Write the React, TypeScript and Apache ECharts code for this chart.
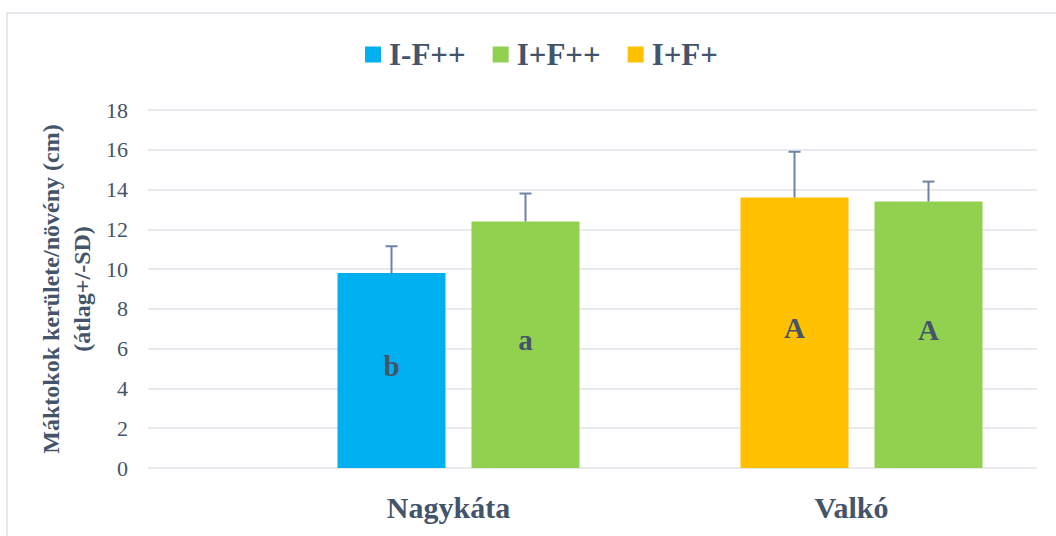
import React, { useEffect, useRef } from "react";
import * as echarts from "echarts";

const categories = ["Nagykáta", "Valkó"];
const seriesNames = ["I-F++", "I+F++", "I+F+"];
// means per series (per category), "-" = no bar
const valsIFpp: (number | string)[] = [9.8, "-"];
const valsIpFpp: (number | string)[] = [12.4, 13.4];
const valsIpFp: (number | string)[] = ["-", 13.6];
// standard deviations
const sdIFpp: (number | null)[] = [1.35, null];
const sdIpFpp: (number | null)[] = [1.4, 1.0];
const sdIpFp: (number | null)[] = [null, 2.3];
// significance letters
const lettersIFpp = ["b", ""];
const lettersIpFpp = ["a", "A"];
const lettersIpFp = ["", "A"];
const yTicks = { min: 0, max: 18, interval: 2 };

const FONT = "Liberation Serif";
const TXT = "#44546a";
const BAR_W = 108;
const BAR_GAP = 26;

export default function App() {
  const ref = useRef<HTMLDivElement>(null);
  useEffect(() => {
    if (!ref.current) return;
    const chart = echarts.init(ref.current, null, { renderer: "svg" });

    // error bar data: [categoryIndex, mean, sd, slot(-1 left, +1 right)]
    const errData: number[][] = [];
    categories.forEach((_, i) => {
      if (typeof valsIFpp[i] === "number" && sdIFpp[i] != null)
        errData.push([i, valsIFpp[i] as number, sdIFpp[i] as number, -1]);
      if (typeof valsIpFp[i] === "number" && sdIpFp[i] != null)
        errData.push([i, valsIpFp[i] as number, sdIpFp[i] as number, -1]);
      if (typeof valsIpFpp[i] === "number" && sdIpFpp[i] != null)
        errData.push([i, valsIpFpp[i] as number, sdIpFpp[i] as number, 1]);
    });

    const labelStyle = (letters: string[]) => ({
      show: true,
      position: "inside",
      offset: [0, -5],
      fontFamily: FONT,
      fontWeight: "bold",
      fontSize: 29,
      color: TXT,
      formatter: (p: any) => letters[p.dataIndex] || "",
    });

    chart.setOption({
      animation: false,
      textStyle: { fontFamily: FONT },
      graphic: [
        {
          type: "rect",
          shape: { x: 7, y: 13, width: 1100, height: 600 },
          style: { fill: "none", stroke: "#dde1e6", lineWidth: 1.5 },
          z: -1,
        },
      ],
      legend: {
        data: seriesNames,
        top: 39,
        left: 365,
        padding: 0,
        icon: "rect",
        itemWidth: 16,
        itemHeight: 16,
        itemGap: 27,
        textStyle: {
          fontFamily: FONT,
          fontWeight: "bold",
          fontSize: 31,
          color: TXT,
          padding: [0, 0, 0, 3],
        },
      },
      grid: [
        { left: 148, right: 19, top: 110, bottom: 68, outerBoundsMode: "none", containLabel: false },
        { left: 257, width: 806, top: 110, bottom: 68, outerBoundsMode: "none", containLabel: false },
      ],
      xAxis: [
        { type: "category", gridIndex: 0, data: categories, show: false },
        {
          type: "category",
          gridIndex: 1,
          data: categories,
          axisLine: { show: false },
          axisTick: { show: false },
          axisLabel: {
            fontFamily: FONT,
            fontWeight: "bold",
            fontSize: 30,
            color: TXT,
            margin: 24,
            padding: [0, 20, 0, 0],
          },
        },
      ],
      yAxis: [
        {
          type: "value",
          gridIndex: 0,
          min: yTicks.min,
          max: yTicks.max,
          interval: yTicks.interval,
          axisLine: { show: false },
          axisTick: { show: false },
          splitLine: { lineStyle: { color: "#dfe3e8", width: 1.5 } },
          axisLabel: { fontFamily: FONT, fontSize: 22, color: TXT, margin: 20 },
          name: "Máktokok kerülete/növény (cm)\n(átlag+/-SD)",
          nameLocation: "middle",
          nameGap: 51,
          nameMoveOverlap: false,
          nameTextStyle: {
            fontFamily: FONT,
            fontWeight: "bold",
            fontSize: 24,
            color: TXT,
            lineHeight: 31,
          },
        },
        {
          type: "value",
          gridIndex: 1,
          min: yTicks.min,
          max: yTicks.max,
          interval: yTicks.interval,
          show: false,
          splitLine: { show: false },
        },
      ],
      series: [
        {
          name: "I-F++",
          type: "bar",
          xAxisIndex: 1,
          yAxisIndex: 1,
          stack: "first",
          data: valsIFpp,
          barWidth: BAR_W,
          barGap: `${(BAR_GAP / BAR_W) * 100}%`,
          itemStyle: { color: "#00b0f0" },
          label: labelStyle(lettersIFpp),
        },
        {
          name: "I+F+",
          type: "bar",
          xAxisIndex: 1,
          yAxisIndex: 1,
          stack: "first",
          data: valsIpFp,
          barWidth: BAR_W,
          barGap: `${(BAR_GAP / BAR_W) * 100}%`,
          itemStyle: { color: "#ffc000" },
          label: labelStyle(lettersIpFp),
        },
        {
          name: "I+F++",
          type: "bar",
          xAxisIndex: 1,
          yAxisIndex: 1,
          data: valsIpFpp,
          barWidth: BAR_W,
          barGap: `${(BAR_GAP / BAR_W) * 100}%`,
          itemStyle: { color: "#92d050" },
          label: labelStyle(lettersIpFpp),
        },
        {
          name: "errors",
          type: "custom",
          xAxisIndex: 1,
          yAxisIndex: 1,
          silent: true,
          z: 10,
          data: errData,
          encode: { x: 0, y: 1 },
          renderItem: (_params: any, api: any) => {
            const ci = api.value(0);
            const mean = api.value(1);
            const sd = api.value(2);
            const slot = api.value(3);
            const base = api.coord([ci, mean]);
            const top = api.coord([ci, mean + sd]);
            const x = base[0] + slot * (BAR_W + BAR_GAP) / 2;
            const style = { stroke: "#6e83a3", lineWidth: 2 };
            return {
              type: "group",
              children: [
                { type: "line", shape: { x1: x, y1: base[1], x2: x, y2: top[1] }, style },
                { type: "line", shape: { x1: x - 6, y1: top[1], x2: x + 6, y2: top[1] }, style },
              ],
            };
          },
        },
      ],
    });
    return () => chart.dispose();
  }, []);
  return (
    <div
      ref={ref}
      style={{ position: "fixed", left: 0, top: 0, width: 1056, height: 536, background: "#fff" }}
    />
  );
}
